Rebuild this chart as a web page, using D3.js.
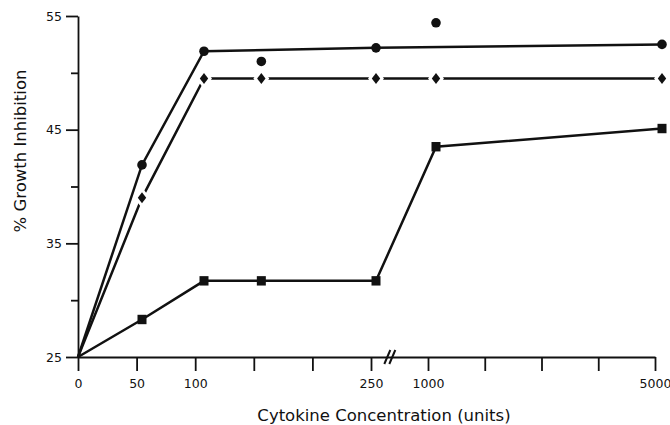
<!DOCTYPE html>
<html><head><meta charset="utf-8">
<script src="https://cdn.jsdelivr.net/npm/d3@7"></script>
<style>body{margin:0;background:#fff}svg{display:block}</style>
</head><body>
<svg id="c" width="670" height="425"></svg>
<script>
// ---- data ----
const concentrations = [0, 50, 100, 150, 250, 1000, 5000];
// circle series (connected points)
const circleX = [0, 50, 100, 250, 5000];
const circleY = [25, 41.9, 51.9, 52.2, 52.5];
// circle series (unconnected replicate points)
const circleExtraX = [150, 1000];
const circleExtraY = [51.0, 54.4];
// diamond series
const diamondY = [25, 39.0, 49.5, 49.5, 49.5, 49.5, 49.5];
// square series
const squareY = [25, 28.3, 31.7, 31.7, 31.7, 43.5, 45.1];
// axis ticks
const xTickValues = [0, 50, 100, 150, 200, 250, 1000, 2000, 3000, 4000, 5000];
const xTickLabels = ["0", "50", "100", "", "", "250", "1000", "", "", "", "5000"];
const yMajorTicks = [25, 35, 45, 55];
const yMinorTicks = [30, 40, 50];

// ---- layout ----
const svg = d3.select("#c");
const font = "'DejaVu Sans', sans-serif";
const ink = "#111";

// broken axis: linear 0-250, then 1000-5000
const x = d3.scaleLinear().domain([0, 250, 1000, 5000]).range([78, 371, 428, 655]);
// the original figure plots its symbols a little right of the ticks
const xm = d3.scaleLinear().domain([0, 50, 100, 250, 1000, 5000]).range([78, 142, 204, 376, 436, 662]);
const y = d3.scaleLinear().domain([25, 55]).range([357, 16]);

// axes
const gx = svg.append("g").attr("transform", `translate(0,${y(25)})`)
  .call(d3.axisBottom(x).tickValues(xTickValues).tickSize(14).tickSizeOuter(0).tickPadding(8)
    .tickFormat((d, i) => xTickLabels[i]));
const gy = svg.append("g").attr("transform", `translate(${x(0)},0)`)
  .call(d3.axisLeft(y).tickValues(yMajorTicks).tickSize(12).tickSizeOuter(0).tickPadding(4).tickFormat(d3.format("d")));
const gyMinor = svg.append("g").attr("transform", `translate(${x(0)},0)`)
  .call(d3.axisLeft(y).tickValues(yMinorTicks).tickSize(7).tickFormat(""));
gyMinor.select(".domain").remove();
[gx, gy, gyMinor].forEach(g => {
  g.selectAll("path,line").attr("stroke", ink).attr("stroke-width", 1.8);
  g.selectAll("text").attr("font-family", font).attr("font-size", 12.5).attr("fill", ink);
});

// axis break mark
const breakX = x(250) + (x(1000) - x(250)) * 0.33;
const brk = svg.append("g").attr("transform", `translate(${breakX},${y(25)})`);
[-2.5, 2.5].forEach(dx => {
  brk.append("line").attr("x1", dx - 3).attr("y1", 7).attr("x2", dx + 3).attr("y2", -7)
    .attr("stroke", ink).attr("stroke-width", 2);
});

// titles
svg.append("text").attr("x", 384).attr("y", 421).attr("text-anchor", "middle")
  .attr("font-family", font).attr("font-size", 16.5).attr("fill", ink)
  .text("Cytokine Concentration (units)");
svg.append("text").attr("transform", "translate(26,151) rotate(-90)").attr("text-anchor", "middle")
  .attr("font-family", font).attr("font-size", 16.5).attr("fill", ink)
  .text("% Growth Inhibition");

const line = d3.line().x(d => xm(d[0])).y(d => y(d[1]));
const lw = 2.5;

// square series
const sq = concentrations.map((c, i) => [c, squareY[i]]);
svg.append("path").attr("d", line(sq)).attr("fill", "none").attr("stroke", ink).attr("stroke-width", lw);
svg.selectAll(".sq").data(sq.slice(1)).join("rect").attr("class", "sq")
  .attr("x", d => xm(d[0]) - 4.5).attr("y", d => y(d[1]) - 4.7)
  .attr("width", 9).attr("height", 9.4).attr("fill", ink);

// diamond series (line interrupted around each symbol)
const dm = concentrations.map((c, i) => [c, diamondY[i]]);
svg.append("path").attr("d", line(dm)).attr("fill", "none").attr("stroke", ink).attr("stroke-width", lw);
const diamondPath = "M0,-5.5L4.2,0L0,5.5L-4.2,0Z";
svg.selectAll(".dm").data(dm.slice(1)).join("path").attr("class", "dm")
  .attr("transform", d => `translate(${xm(d[0])},${y(d[1])})`)
  .attr("d", diamondPath).attr("fill", ink).attr("stroke", "#fff").attr("stroke-width", 6)
  .attr("paint-order", "stroke");

// circle series
const ci = circleX.map((c, i) => [c, circleY[i]]);
svg.append("path").attr("d", line(ci)).attr("fill", "none").attr("stroke", ink).attr("stroke-width", lw);
svg.selectAll(".ci").data(ci.slice(1)).join("circle").attr("class", "ci")
  .attr("cx", d => xm(d[0])).attr("cy", d => y(d[1])).attr("r", 4.8).attr("fill", ink);
const ce = circleExtraX.map((c, i) => [c, circleExtraY[i]]);
svg.selectAll(".ce").data(ce).join("circle").attr("class", "ce")
  .attr("cx", d => xm(d[0])).attr("cy", d => y(d[1])).attr("r", 4.8).attr("fill", ink);
</script>
</body></html>
